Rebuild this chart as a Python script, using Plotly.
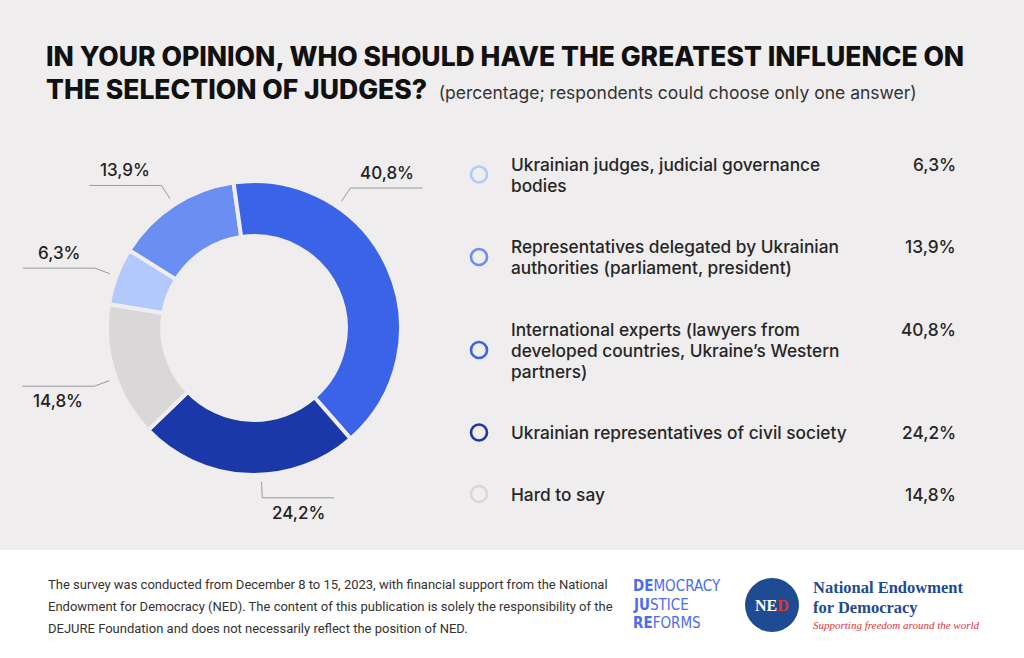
import math
import plotly.graph_objects as go

W, H = 1024, 658
BG = "#efedee"

# legend order (also the order of the slices going clockwise)
CATEGORIES = [
    "Ukrainian judges, judicial governance<br>bodies",
    "Representatives delegated by Ukrainian<br>authorities (parliament, president)",
    "International experts (lawyers from<br>developed countries, Ukraine’s Western<br>partners)",
    "Ukrainian representatives of civil society",
    "Hard to say",
]
VALUES = [6.3, 13.9, 40.8, 24.2, 14.8]
VALUE_LABELS = ["6,3%", "13,9%", "40,8%", "24,2%", "14,8%"]
COLORS = ["#b4c9fb", "#6a8ef1", "#3b63e8", "#1b38a9", "#d9d7d8"]

# where along each slice the outside label's leader line starts (0..1)
LABEL_FRAC = [0.5, 0.5, 0.29, 0.44, 0.45]

TITLE_1 = "IN YOUR OPINION, WHO SHOULD HAVE THE GREATEST INFLUENCE ON"
TITLE_2 = "THE SELECTION OF JUDGES?"
SUBTITLE = "(percentage; respondents could choose only one answer)"
FOOTNOTE = [
    "The survey was conducted from December 8 to 15, 2023, with financial support from the National",
    "Endowment for Democracy (NED). The content of this publication is solely the responsibility of the",
    "DEJURE Foundation and does not necessarily reflect the position of NED.",
]

# donut geometry, in pixels
CX, CY, R = 254, 328, 147
START = -8  # the 40,8% slice starts just left of 12 o'clock

total = sum(VALUES)
rotation = START - 360 * sum(VALUES[:2]) / total

fig = go.Figure()

fig.add_trace(go.Pie(
    values=VALUES,
    labels=[c.replace("<br>", " ") for c in CATEGORIES],
    sort=False,
    direction="clockwise",
    rotation=rotation,
    hole=0.625,
    marker=dict(colors=COLORS, line=dict(color=BG, width=4)),
    textinfo="none",
    hoverinfo="skip",
    showlegend=False,
    domain=dict(x=[(CX - R) / W, (CX + R) / W],
                y=[1 - (CY + R) / H, 1 - (CY - R) / H]),
))

annotations = []
font_main = "Inter, Roboto, sans-serif"

# leader lines + outside labels
ang = rotation
for val, lab, frac in zip(VALUES, VALUE_LABELS, LABEL_FRAC):
    sweep = 360 * val / total
    a = math.radians(ang + frac * sweep)
    ang += sweep
    sx, cy_ = math.sin(a), -math.cos(a)
    x0, y0 = CX + 154 * sx, CY + 154 * cy_
    x1, y1 = CX + 170 * sx, CY + 170 * cy_
    x2 = x1 + (72 if sx > 0 else -72)
    fig.add_trace(go.Scatter(x=[x0, x1, x2], y=[y0, y1, y1], mode="lines",
                             line=dict(color="#9b9b9b", width=1),
                             hoverinfo="skip", showlegend=False))
    ty = y1 - 15 if cy_ < 0 else y1 + 15
    annotations.append(dict(x=(x1 + x2) / 2, y=ty, text=lab, showarrow=False,
                            xanchor="center", yanchor="middle",
                            font=dict(family=font_main, size=17, color="#222222", weight=500)))

# legend block on the right
line_h, gap = 21, 61.5
y = 164
ring_y = []
for cat, lab in zip(CATEGORIES, VALUE_LABELS):
    lines = cat.split("<br>")
    ys = [y + i * line_h for i in range(len(lines))]
    for ln, ly in zip(lines, ys):
        annotations.append(dict(x=509, y=ly, text=ln, showarrow=False,
                                xanchor="left", yanchor="middle",
                                font=dict(family=font_main, size=17.3, color="#262626", weight=500)))
    annotations.append(dict(x=958, y=ys[0], text=lab, showarrow=False,
                            xanchor="right", yanchor="middle",
                            font=dict(family=font_main, size=17.3, color="#262626", weight=500)))
    ring_y.append(sum(ys) / len(ys))
    y = ys[-1] + gap

fig.add_trace(go.Scatter(x=[479] * len(ring_y), y=ring_y, mode="markers",
                         marker=dict(symbol="circle-open", size=16, color=COLORS,
                                     line=dict(width=2.6)),
                         hoverinfo="skip", showlegend=False))

# title
annotations.append(dict(x=44, y=56, text=TITLE_1, showarrow=False,
                        xanchor="left", yanchor="middle",
                        font=dict(family=font_main, size=26.5, color="#111111", weight=800)))
annotations.append(dict(x=44, y=89,
                        text=TITLE_2 + "  <span style='font-size:17.5px;font-weight:400;color:#333'>"
                             + SUBTITLE + "</span>",
                        showarrow=False, xanchor="left", yanchor="middle",
                        font=dict(family=font_main, size=26.5, color="#111111", weight=800)))

# footer
for i, t in enumerate(FOOTNOTE):
    annotations.append(dict(x=46, y=584 + i * 22, text=t, showarrow=False,
                            xanchor="left", yanchor="middle",
                            font=dict(family="Roboto, sans-serif", size=13, color="#333333")))

for i, (b, rest) in enumerate([("DE", "MOCRACY"), ("JU", "STICE"), ("RE", "FORMS")]):
    annotations.append(dict(x=631, y=586 + i * 18.5,
                            text="<b>" + b + "</b>" + rest, showarrow=False,
                            xanchor="left", yanchor="middle",
                            font=dict(family="'Liberation Sans Narrow', 'DejaVu Sans Condensed', sans-serif",
                                      size=15, color="#4a6cf0")))

annotations.append(dict(x=772, y=605,
                        text="<b>NE<span style='color:#e0343a'>D</span></b>", showarrow=False,
                        xanchor="center", yanchor="middle",
                        font=dict(family="'Liberation Serif', serif", size=16, color="white")))
annotations.append(dict(x=811, y=587, text="<b>National Endowment</b>", showarrow=False,
                        xanchor="left", yanchor="middle",
                        font=dict(family="'Liberation Serif', serif", size=16.5, color="#1e4b92")))
annotations.append(dict(x=811, y=607, text="<b>for Democracy</b>", showarrow=False,
                        xanchor="left", yanchor="middle",
                        font=dict(family="'Liberation Serif', serif", size=16.5, color="#1e4b92")))
annotations.append(dict(x=811, y=625, text="<i>Supporting freedom around the world</i>",
                        showarrow=False, xanchor="left", yanchor="middle",
                        font=dict(family="'Liberation Serif', serif", size=11, color="#e0343a")))

for a in annotations:
    a.setdefault("xref", "x")
    a.setdefault("yref", "y")

shapes = [
    dict(type="rect", xref="x", yref="y", x0=0, x1=W, y0=550, y1=H,
         fillcolor="white", line=dict(width=0), layer="below"),
    dict(type="circle", xref="x", yref="y", x0=745, x1=799, y0=578, y1=632,
         fillcolor="#1e4b92", line=dict(width=0), layer="below"),
]

fig.update_layout(
    width=W, height=H,
    margin=dict(l=0, r=0, t=0, b=0),
    paper_bgcolor=BG, plot_bgcolor="rgba(0,0,0,0)",
    xaxis=dict(range=[0, W], visible=False, fixedrange=True),
    yaxis=dict(range=[H, 0], visible=False, fixedrange=True),
    annotations=annotations,
    shapes=shapes,
    showlegend=False,
)

fig.write_html("out.html", config={"displayModeBar": False},
               post_script="document.body.style.margin='0';document.body.style.overflow='hidden';")
